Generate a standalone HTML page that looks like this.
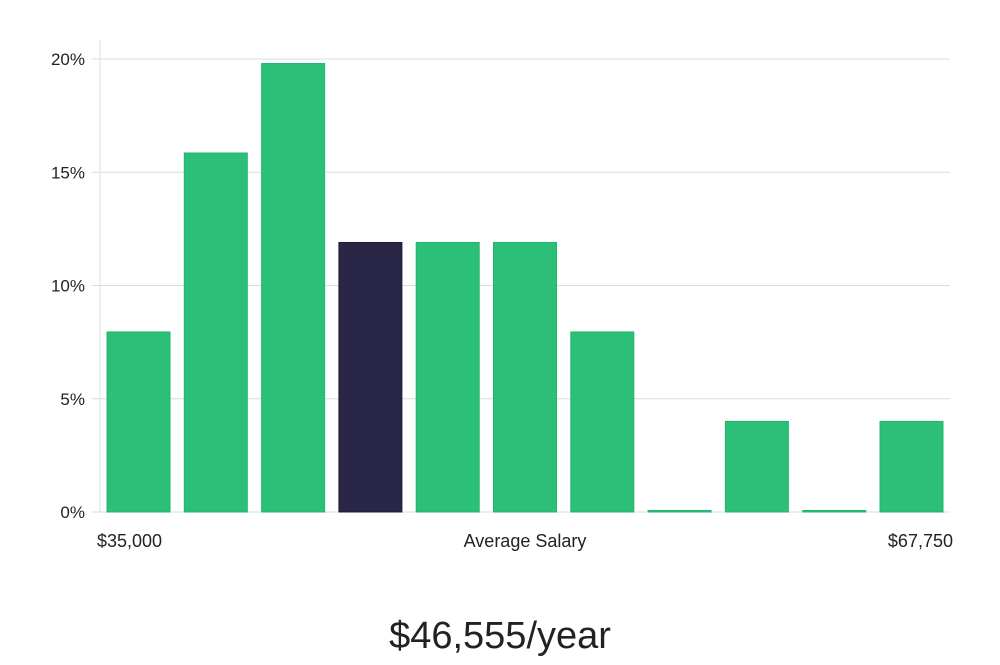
<!DOCTYPE html>
<html><head><meta charset="utf-8"><style>
html,body{margin:0;padding:0;background:#fff;}
body{width:1000px;height:660px;overflow:hidden;font-family:"Liberation Sans","DejaVu Sans",sans-serif;}
</style></head><body>
<svg id="chart" width="1000" height="660" xmlns="http://www.w3.org/2000/svg"></svg>
<script>
const categories = ["b1","b2","b3","b4","b5","b6","b7","b8","b9","b10","b11"];
const values = [7.95,15.85,19.8,11.9,11.9,11.9,7.95,0,4,0,4];
const highlightIndex = 3;
const yTicks = [0,5,10,15,20];
const yTickLabels = ["0%","5%","10%","15%","20%"];
const xLabels = ["$35,000","Average Salary","$67,750"];
const titleText = "$46,555/year";

const svg = document.getElementById('chart');
const NS = 'http://www.w3.org/2000/svg';
const x0 = 100, x1 = 950, yTop = 59, yBot = 512, yMax = 20;
const y = v => yBot - (v / yMax) * (yBot - yTop);
const slot = (x1 - x0) / categories.length;
const bw = 63;
const xb = i => x0 + 7 + i * 77.3;

function mk(tag, attrs, text) {
  const e = document.createElementNS(NS, tag);
  for (const k in attrs) e.setAttribute(k, attrs[k]);
  if (text !== undefined) e.textContent = text;
  svg.appendChild(e);
  return e;
}

yTicks.forEach((t, i) => {
  const g = mk('line', {x1: 92, x2: x1, y1: y(t), y2: y(t), stroke: '#dcdcdc', 'stroke-width': 1});
  
  
  const l = mk('text', {x: 85, y: y(t) + 6, 'text-anchor': 'end', 'font-size': 17, fill: '#222'}, yTickLabels[i]);
  
  
});
const ax = mk('line', {x1: x0, x2: x0, y1: 40, y2: yBot, stroke: '#dcdcdc', 'stroke-width': 1});



values.forEach((v, i) => {
  const h = Math.max(yBot - y(v), 1.5);
  const r = mk('rect', {x: xb(i), y: yBot - h, width: bw, height: h,
    fill: i === highlightIndex ? '#2a2647' : '#2bbf78',
    stroke: i === highlightIndex ? '#1f1b3d' : '#22b56c', 'stroke-width': 1});
  
  
});

const xl = [[97, 'start'], [525, 'middle'], [953, 'end']];
xLabels.forEach((s, i) => {
  const t = mk('text', {x: xl[i][0], y: 547, 'text-anchor': xl[i][1], 'font-size': 18, fill: '#222'}, s);
  
  
});

const tt = mk('text', {x: 500, y: 648, 'text-anchor': 'middle', 'font-size': 38, fill: '#222'}, titleText);


</script>
</body></html>
